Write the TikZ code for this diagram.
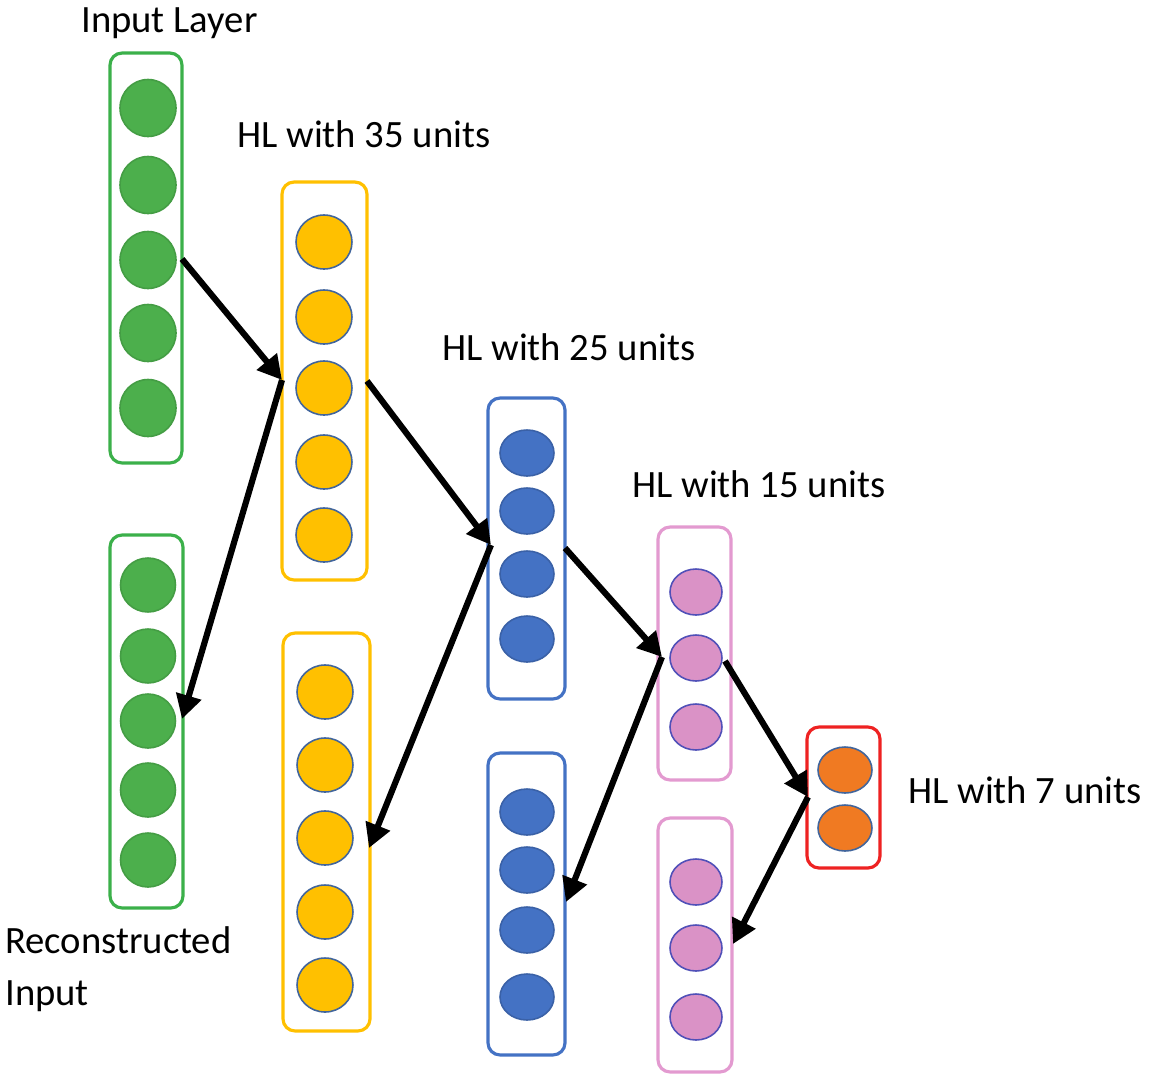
\documentclass[tikz,border=0pt]{standalone}
\usepackage{fontspec}
\setmainfont{Carlito}
\usetikzlibrary{arrows.meta,shapes.geometric}
\definecolor{gfill}{HTML}{4CAF4C}
\definecolor{gline}{HTML}{3BB04A}
\definecolor{yfill}{HTML}{FFC000}
\definecolor{yline}{HTML}{FFC000}
\definecolor{bfill}{HTML}{4472C4}
\definecolor{bline}{HTML}{4472C4}
\definecolor{pfill}{HTML}{DA92C6}
\definecolor{pline}{HTML}{E39AD0}
\definecolor{ofill}{HTML}{F07A22}
\definecolor{rline}{HTML}{EE2222}
\definecolor{cedge}{HTML}{41659C}
\definecolor{pedge}{HTML}{5050B8}
\begin{document}
\begin{tikzpicture}[x=0.02cm,y=-0.02cm,
  layerbox/.style={draw, line width=1.8pt, rounded corners=0.24cm, rectangle, inner sep=0pt, fill=white},
  unit/.style={ellipse, inner sep=0pt, line width=0.9pt},
  gunit/.style={unit, fill=gfill, draw=gfill!90!black, minimum width=1.12cm, minimum height=1.14cm},
  grunit/.style={unit, fill=gfill, draw=gfill!90!black, minimum width=1.1cm, minimum height=1.08cm},
  yunit/.style={unit, fill=yfill, draw=cedge, minimum width=1.12cm, minimum height=1.08cm},
  bunit/.style={unit, fill=bfill, draw=bfill!85!black, minimum width=1.08cm, minimum height=0.92cm},
  punit/.style={unit, fill=pfill, draw=pedge, minimum width=1.04cm, minimum height=0.92cm},
  ounit/.style={unit, fill=ofill, draw=cedge, minimum width=1.08cm, minimum height=0.92cm},
  lbl/.style={anchor=base west, inner sep=0pt, font=\fontsize{22}{26}\selectfont, text=black},
  conn/.style={line width=3.5pt, -{Triangle[length=0.48cm,width=0.5cm]}}
]
\useasboundingbox (0,0) rectangle (1150,1079);

% boxes
\node[layerbox, draw=gline, minimum width=1.44cm, minimum height=8.2cm] (gA) at (146,258) {};
\node[layerbox, draw=gline, minimum width=1.46cm, minimum height=7.46cm] (gB) at (146.5,721.5) {};
\node[layerbox, draw=yline, minimum width=1.7cm, minimum height=7.96cm] (yA) at (324.5,381) {};
\node[layerbox, draw=yline, minimum width=1.74cm, minimum height=7.96cm] (yB) at (326.5,832) {};
\node[layerbox, draw=bline, minimum width=1.54cm, minimum height=6.02cm] (bA) at (526.5,548.5) {};
\node[layerbox, draw=bline, minimum width=1.54cm, minimum height=6.04cm] (bB) at (526.5,904) {};
\node[layerbox, draw=pline, minimum width=1.46cm, minimum height=5.06cm] (pA) at (694.5,653.5) {};
\node[layerbox, draw=pline, minimum width=1.48cm, minimum height=5.08cm] (pB) at (695,945) {};
\node[layerbox, draw=rline, minimum width=1.46cm, minimum height=2.82cm] (rA) at (843.5,797.5) {};

% units
\foreach \y [count=\i] in {108,185,260,333,408} \node[gunit] (ga\i) at (148,\y) {};
\foreach \y [count=\i] in {585,656,721,790,860} \node[grunit] (gb\i) at (148,\y) {};
\foreach \y [count=\i] in {242,317,388,462,535} \node[yunit] (ya\i) at (324,\y) {};
\foreach \y [count=\i] in {692,765,838,912,985} \node[yunit] (yb\i) at (325,\y) {};
\foreach \y [count=\i] in {453,511,574,639} \node[bunit] (ba\i) at (527,\y) {};
\foreach \y [count=\i] in {812,870,930,997} \node[bunit] (bb\i) at (527,\y) {};
\foreach \y [count=\i] in {592,658,727} \node[punit] (pa\i) at (696,\y) {};
\foreach \y [count=\i] in {882,948,1017} \node[punit] (pb\i) at (696,\y) {};
\foreach \y [count=\i] in {770,828} \node[ounit] (oa\i) at (845,\y) {};

% labels
\node[lbl] (tIn) at (81,32) {Input Layer};
\node[lbl] (t35) at (237,147) {HL with 35 units};
\node[lbl] (t25) at (442,360) {HL with 25 units};
\node[lbl] (t15) at (632,497) {HL with 15 units};
\node[lbl] (t7) at (908,803) {HL with 7 units};
\node[lbl] (tRec) at (5,953) {Reconstructed};
\node[lbl] (tRec2) at (5,1005) {Input};

% connector points
\coordinate (s1) at (182,259);
\coordinate (e1) at (282,380);
\coordinate (e2) at (182,719);
\coordinate (s3) at (367,381);
\coordinate (e3) at (491,545);
\coordinate (e4) at (369,848);
\coordinate (s5) at (565,548);
\coordinate (e5) at (662,657);
\coordinate (e6) at (566,902);
\coordinate (s7) at (725,661);
\coordinate (e7) at (808,797);
\coordinate (e8) at (733,944);

\draw[conn] (s1) -- (e1);
\draw[conn] (e1) -- (e2);
\draw[conn] (s3) -- (e3);
\draw[conn] (e3) -- (e4);
\draw[conn] (s5) -- (e5);
\draw[conn] (e5) -- (e6);
\draw[conn] (s7) -- (e7);
\draw[conn] (e7) -- (e8);
\end{tikzpicture}
\end{document}
